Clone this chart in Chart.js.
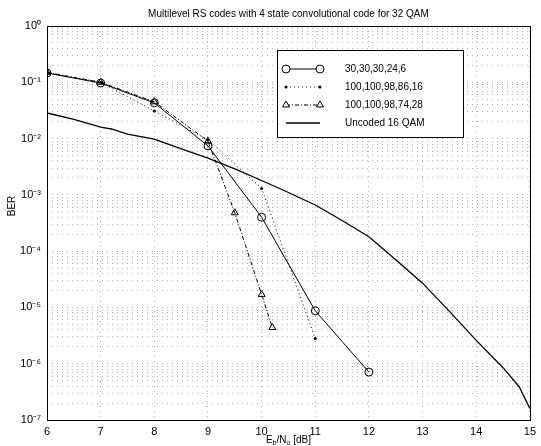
<!DOCTYPE html>
<html>
<head>
<meta charset="utf-8">
<script src="https://cdn.jsdelivr.net/npm/chart.js@4"></script>
<style>
  html, body { margin: 0; padding: 0; background: #fff; }
  #wrap { width: 541px; height: 446px; }
</style>
</head>
<body>
<div id="wrap"><canvas id="berChart" width="541" height="446"></canvas></div>
<script>
// values (Eb/No in dB, BER)
const titleText = 'Multilevel RS codes with 4 state convolutional code for 32 QAM';
const seriesNames = ['30,30,30,24,6', '100,100,98,86,16', '100,100,98,74,28', 'Uncoded 16 QAM'];

const ebnoA = [6, 7, 8, 9, 10, 11, 12];
const berA = [0.146, 0.097, 0.043, 0.0074, 4.0e-4, 8.7e-6, 7.1e-7];

const ebnoB = [6, 7, 8, 9, 10, 11];
const berB = [0.15, 0.1, 0.031, 0.0095, 1.3e-3, 2.8e-6];

const ebnoC = [6, 7, 8, 9, 9.5, 10, 10.2];
const berC = [0.15, 0.1, 0.045, 0.009, 4.8e-4, 1.7e-5, 4.4e-6];

const ebnoU = [6, 6.5, 7, 7.2, 7.5, 8, 8.4, 9, 9.5, 10, 10.5, 11, 11.5, 12, 12.5, 13, 13.5, 14, 14.5, 14.8, 15];
const berU = [0.0285, 0.022, 0.016, 0.0148, 0.012, 0.0098, 0.0071, 0.0045, 0.0029, 0.0018, 0.0011, 6.6e-4, 3.5e-4, 1.8e-4, 7e-5, 2.7e-5, 8.5e-6, 2.6e-6, 8.5e-7, 3.9e-7, 1.6e-7];

const xTicks = [6, 7, 8, 9, 10, 11, 12, 13, 14, 15];
const yDecades = [-7, -6, -5, -4, -3, -2, -1, 0];

const sup = { '0': '⁰', '1': '¹', '2': '²', '3': '³', '4': '⁴', '5': '⁵', '6': '⁶', '7': '⁷', '-': '⁻' };
function decadeLabel(e) {
  return '10' + String(e).split('').map(c => sup[c]).join('');
}

function pts(xs, ys) {
  return xs.map((x, i) => ({ x: x, y: ys[i] }));
}

const FONT = '"Liberation Sans", Arial, sans-serif';

const datasets = [
  {
    label: seriesNames[0], data: pts(ebnoA, berA),
    borderColor: '#000', backgroundColor: 'rgba(0,0,0,0)', borderWidth: 1,
    pointStyle: 'circle', pointRadius: 4, pointBorderWidth: 1, pointBorderColor: '#000'
  },
  {
    label: seriesNames[1], data: pts(ebnoB, berB),
    borderColor: '#000', backgroundColor: '#000', borderWidth: 1, borderDash: [1, 3],
    pointStyle: 'circle', pointRadius: 1.5, pointBorderWidth: 0, pointBackgroundColor: '#000'
  },
  {
    label: seriesNames[2], data: pts(ebnoC, berC),
    borderColor: '#000', backgroundColor: 'rgba(0,0,0,0)', borderWidth: 1, borderDash: [4, 2, 1, 2],
    pointStyle: 'triangle', pointRadius: 4, pointBorderWidth: 1, pointBorderColor: '#000'
  },
  {
    label: seriesNames[3], data: pts(ebnoU, berU),
    borderColor: '#000', backgroundColor: '#000', borderWidth: 1.3,
    pointRadius: 0
  }
];

// frame, title, axis titles and the boxed legend
const decorations = {
  id: 'decorations',
  afterDraw(chart) {
    const ctx = chart.ctx;
    const a = chart.chartArea;
    ctx.save();
    ctx.setLineDash([]);
    ctx.strokeStyle = '#000';
    ctx.lineWidth = 1;
    ctx.strokeRect(Math.round(a.left) + 0.5, Math.round(a.top) + 0.5, Math.round(a.right - a.left), Math.round(a.bottom - a.top));

    ctx.fillStyle = '#000';
    ctx.textBaseline = 'middle';
    ctx.textAlign = 'center';
    ctx.font = '10px ' + FONT;
    ctx.fillText(titleText, (a.left + a.right) / 2, 14);

    // x title: E_b/N_o [dB]
    const parts = [['E', 10, 0], ['b', 7, 3], ['/N', 10, 0], ['o', 7, 3], [' [dB]', 10, 0]];
    let w = 0;
    parts.forEach(p => { ctx.font = p[1] + 'px ' + FONT; w += ctx.measureText(p[0]).width; });
    let x = (a.left + a.right) / 2 - w / 2;
    ctx.textAlign = 'left';
    parts.forEach(p => {
      ctx.font = p[1] + 'px ' + FONT;
      ctx.fillText(p[0], x, 440 + p[2]);
      x += ctx.measureText(p[0]).width;
    });

    // y title
    ctx.save();
    ctx.translate(12, 206);
    ctx.rotate(-Math.PI / 2);
    ctx.textAlign = 'center';
    ctx.font = '10px ' + FONT;
    ctx.fillText('BER', 0, 0);
    ctx.restore();

    // legend box
    const bx = 277, by = 50, bw = 186, bh = 87;
    ctx.fillStyle = '#fff';
    ctx.fillRect(bx, by, bw, bh);
    ctx.strokeStyle = '#000';
    ctx.lineWidth = 1;
    ctx.strokeRect(bx + 0.5, by + 0.5, bw, bh);
    chart.data.datasets.forEach((ds, i) => {
      const yy = 69 + i * 18;
      ctx.strokeStyle = '#000';
      ctx.fillStyle = '#000';
      ctx.lineWidth = ds.borderWidth;
      ctx.setLineDash(ds.borderDash || []);
      ctx.beginPath();
      ctx.moveTo(286, yy);
      ctx.lineTo(320, yy);
      ctx.stroke();
      ctx.setLineDash([]);
      if (ds.pointRadius > 0) {
        ctx.fillStyle = ds.pointBackgroundColor || '#fff';
        ctx.lineWidth = 1;
        [286, 320].forEach(px => {
          Chart.helpers.drawPoint(ctx, { pointStyle: ds.pointStyle, radius: ds.pointRadius, rotation: 0, borderWidth: ds.pointBorderWidth }, px, yy);
        });
      }
      ctx.fillStyle = '#000';
      ctx.font = '10px ' + FONT;
      ctx.textAlign = 'left';
      ctx.fillText(ds.label, 345, yy);
    });
    ctx.restore();
  }
};

const ctx = document.getElementById('berChart').getContext('2d');
new Chart(ctx, {
  type: 'line',
  data: { datasets: datasets },
  plugins: [decorations],
  options: {
    responsive: false,
    animation: false,
    layout: { padding: { top: 26, right: 5, left: 0, bottom: 0 } },
    plugins: {
      legend: { display: false },
      title: { display: false },
      tooltip: { enabled: false }
    },
    scales: {
      x: {
        type: 'linear', min: 6, max: 15,
        afterBuildTicks: s => { s.ticks = xTicks.map(v => ({ value: v })); },
        afterFit: s => { s.height = 26; },
        grid: { color: '#b4b4b4', lineWidth: 1, drawTicks: false },
        border: { display: false, dash: [1, 4] },
        ticks: { color: '#000', font: { size: 11, family: FONT }, padding: 5, maxRotation: 0, autoSkip: false }
      },
      y: {
        type: 'logarithmic', min: 1e-7, max: 1,
        afterBuildTicks: s => {
          const t = [];
          yDecades.forEach(e => {
            for (let m = 1; m <= 9; m++) {
              const v = m * Math.pow(10, e);
              if (v <= 1.0000001) t.push({ value: v });
            }
          });
          s.ticks = t;
        },
        afterFit: s => { s.width = 47; },
        grid: { color: '#b4b4b4', lineWidth: 1, drawTicks: false },
        border: { display: false, dash: [1, 4] },
        ticks: {
          color: '#000', font: { size: 11, family: FONT }, padding: 6, autoSkip: false,
          callback: v => {
            const e = Math.round(Math.log10(v));
            return Math.abs(v - Math.pow(10, e)) < 1e-12 ? decadeLabel(e) : '';
          }
        }
      }
    }
  }
});
</script>
</body>
</html>
